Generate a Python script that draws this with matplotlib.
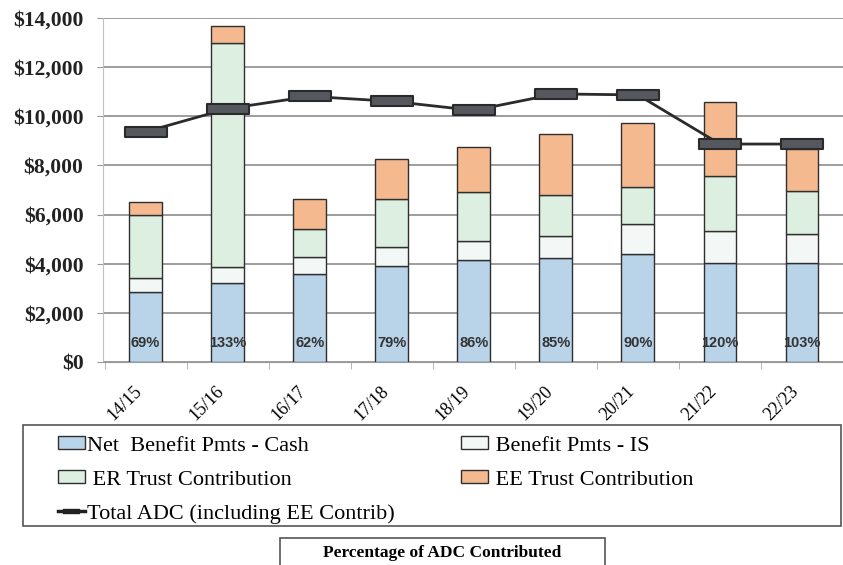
import numpy as np
import matplotlib
matplotlib.use('Agg')
import matplotlib.pyplot as plt
from matplotlib.path import Path
from matplotlib.patches import Patch, Rectangle
from matplotlib.lines import Line2D
from matplotlib.transforms import ScaledTranslation

# fiscal years and stacked components (in $ thousands)
years = ['14/15', '15/16', '16/17', '17/18', '18/19', '19/20', '20/21', '21/22', '22/23']
net_cash = [2840, 3200, 3570, 3910, 4140, 4220, 4380, 4020, 4020]
benefit_is = [570, 670, 700, 760, 800, 910, 1240, 1320, 1170]
er_trust = [2570, 9130, 1160, 1980, 1970, 1670, 1500, 2220, 1770]
ee_trust = [530, 680, 1200, 1620, 1850, 2480, 2620, 3020, 1710]
total_adc = [9370, 10310, 10810, 10610, 10240, 10910, 10870, 8870, 8870]
pct_contrib = ['69%', '133%', '62%', '79%', '86%', '85%', '90%', '120%', '103%']

col_blue = '#b9d3e9'
col_white = '#f3f7f6'
col_green = '#dcefe1'
col_orange = '#f5b98f'
edge = '#2f2f2f'
serif = 'Liberation Serif'

fig = plt.figure(figsize=(8.43, 5.65), dpi=100)
ax = fig.add_axes([103/843, (565-362)/565, 740/843, 344/565])

x = np.arange(len(years))
w = 0.40
bottom = np.zeros(len(years))
for vals, c in [(net_cash, col_blue), (benefit_is, col_white), (er_trust, col_green), (ee_trust, col_orange)]:
    ax.bar(x, vals, w, bottom=bottom, color=c, edgecolor=edge, linewidth=1.0, zorder=3)
    bottom += np.array(vals)

# wide rectangular marker for the ADC line
rect = Path([(-2.1, -0.5), (2.1, -0.5), (2.1, 0.5), (-2.1, 0.5), (-2.1, -0.5)],
            [Path.MOVETO, Path.LINETO, Path.LINETO, Path.LINETO, Path.CLOSEPOLY])
ax.plot(x, total_adc, color='#2b2b2b', lw=2, marker=rect, markersize=30,
        markerfacecolor='#55585f', markeredgecolor='#2a2a2a', markeredgewidth=1.5, zorder=5)

for xi, p in zip(x, pct_contrib):
    ax.text(xi, 770, p, ha='center', va='center', fontsize=10.5, fontweight='bold',
            family='Liberation Sans', color='#333333', zorder=6)

ax.set_xlim(-0.519, 8.41)
ax.set_ylim(0, 14000)
ax.set_yticks(np.arange(0, 14001, 2000))
ax.set_yticklabels(['$' + format(v, ',') for v in range(0, 14001, 2000)],
                   fontsize=15.5, fontweight='bold', family=serif, color='#222222')
ax.set_xticks(x)
ax.set_xticklabels(years, rotation=45, ha='right', fontsize=13, family=serif)
shift = ScaledTranslation(4/72, 0, fig.dpi_scale_trans)
for lab in ax.get_xticklabels():
    lab.set_transform(lab.get_transform() + shift)
ax.set_xticks(np.arange(-0.5, 9, 1), minor=True)
ax.tick_params(axis='x', which='major', length=0, pad=15)
ax.tick_params(axis='x', which='minor', length=5, color='#aaaaaa')
ax.tick_params(axis='y', length=4, color='#999999', pad=10)
ax.grid(axis='y', color='#8c8c8c', lw=1.2, zorder=0)
ax.set_axisbelow(True)
for s in ['top', 'right']:
    ax.spines[s].set_visible(False)
ax.spines['left'].set_color('#c0c0c0')
ax.spines['bottom'].set_color('#999999')

# legend
handles = [
    Patch(facecolor=col_blue, edgecolor=edge, label='Net  Benefit Pmts - Cash'),
    Patch(facecolor=col_green, edgecolor=edge, label=' ER Trust Contribution'),
    Line2D([], [], color='#222222', lw=2.5, marker=rect, markersize=12,
           markerfacecolor='#222222', label='Total ADC (including EE Contrib)'),
    Patch(facecolor=col_white, edgecolor=edge, label=' Benefit Pmts - IS'),
    Patch(facecolor=col_orange, edgecolor=edge, label=' EE Trust Contribution'),
]
fig.legend(handles=handles, ncol=2, loc='upper left', bbox_to_anchor=(58/843, (565-436)/565),
           frameon=False, borderpad=0, borderaxespad=0, handlelength=1.2, handleheight=0.55,
           handletextpad=0.1, columnspacing=3.0, labelspacing=0.65,
           prop={'family': serif, 'size': 16})
fig.patches.append(Rectangle((23/843, (565-526)/565), (841-23)/843, 101/565,
                             transform=fig.transFigure, fill=False, edgecolor='#555555', lw=1.2))

fig.patches.append(Rectangle((280/843, -0.02), 325/843, (565-538)/565 + 0.02,
                             transform=fig.transFigure, fill=False, edgecolor='#555555', lw=1.2))
fig.text(442/843, (565-553)/565, 'Percentage of ADC Contributed', ha='center', va='center',
         fontsize=12.5, fontweight='bold', family=serif)

fig.savefig('out.png', dpi=100)
